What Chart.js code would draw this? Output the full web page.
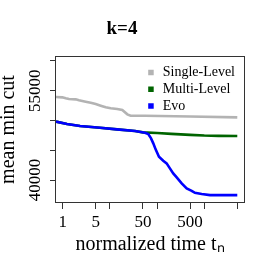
<!DOCTYPE html>
<html>
<head>
<meta charset="utf-8">
<script src="https://cdn.jsdelivr.net/npm/chart.js@4"></script>
<style>
  html, body { margin: 0; padding: 0; background: #ffffff; }
  #c { display: block; }
</style>
</head>
<body>
<canvas id="c" width="273" height="273"></canvas>
<script>
// ---- data ----
const chartTitle = 'k=4';
const xAxisTitle = 'normalized time t\u2099';
const yAxisTitle = 'mean min cut';
const seriesNames = ['Single-Level', 'Multi-Level', 'Evo'];
const seriesColors = ['#b3b3b3', '#006400', '#0000ff'];

const singleTimes  = [0.72, 0.98, 1.16, 1.36, 1.89, 2.21, 3.07, 3.92, 5.0, 6.39, 8.15, 10.4, 14.3, 18.3, 23.4, 27.5, 55.3, 500, 5000];
const singleValues = [53942, 53891, 53723, 53606, 53555, 53387, 53152, 52984, 52766, 52480, 52211, 52043, 51926, 51758, 51035, 50800, 50800, 50666, 50531];

const multiTimes  = [0.72, 1.23, 2.33, 6.16, 14.1, 34.0, 50, 100, 200, 500, 1000, 2000, 5000];
const multiValues = [49826, 49406, 49070, 48784, 48515, 48230, 48011, 47894, 47760, 47591, 47474, 47423, 47390];

const evoTimes  = [0.72, 1.23, 2.33, 6.16, 14.1, 34.0, 55.4, 65, 74.4, 83, 93, 109.5, 134.7, 159.2, 186.8, 219.5, 260.1, 331.7, 423.3, 540, 634, 880, 1324, 5000];
const evoValues = [49826, 49406, 49070, 48784, 48515, 48230, 47944, 47726, 47003, 46163, 45155, 43912, 43240, 42803, 41963, 41123, 40451, 39443, 38603, 38200, 37864, 37646, 37478, 37478];

const xTickValues = [1, 5, 10, 50, 100, 500, 1000, 5000];
const xTickLabels = ['1', '5', '', '50', '', '500', '', ''];
const yTickValues = [40000, 45000, 50000, 55000, 60000];
const yTickLabels = ['40000', '', '', '55000', ''];

const xRange = [0.721, 6935];
const yRange = [36150, 60830];

// ---- build chart ----
function pairs(ts, vs) { return ts.map((t, i) => ({ x: t, y: vs[i] })); }

const serif = '"Liberation Serif", "Times New Roman", serif';

const boxPlugin = {
  id: 'box',
  afterDraw(chart) {
    const a = chart.chartArea, ctx = chart.ctx;
    ctx.save();
    ctx.strokeStyle = '#333';
    ctx.lineWidth = 1;
    ctx.strokeRect(Math.round(a.left) - 0.5, Math.round(a.top) + 0.5,
                   Math.round(a.right - a.left) + 1, Math.round(a.bottom - a.top) - 1);
    ctx.restore();
  }
};

const legendPlugin = {
  id: 'insideLegend',
  afterDraw(chart) {
    const ctx = chart.ctx, a = chart.chartArea;
    ctx.save();
    ctx.font = '14px ' + serif;
    ctx.textBaseline = 'middle';
    ctx.textAlign = 'left';
    chart.data.datasets.forEach((ds, i) => {
      const y = a.top + 16.5 + i * 16.75;
      ctx.fillStyle = ds.borderColor;
      ctx.fillRect(a.left + 92.2, y - 2.75, 5.5, 5.5);
      ctx.fillStyle = '#000';
      ctx.fillText(ds.label, a.left + 106.7, y);
    });
    ctx.restore();
  }
};

const allSeries = [
  pairs(singleTimes, singleValues),
  pairs(multiTimes, multiValues),
  pairs(evoTimes, evoValues)
];

new Chart(document.getElementById('c'), {
  type: 'line',
  data: {
    datasets: allSeries.map((d, i) => ({
      label: seriesNames[i],
      data: d,
      borderColor: seriesColors[i],
      backgroundColor: seriesColors[i],
      borderWidth: 2.6,
      pointRadius: 0,
      tension: 0,
      fill: false,
      order: 2 - i
    }))
  },
  options: {
    responsive: false,
    devicePixelRatio: 1,
    animation: false,
    layout: { padding: { left: 0, right: 29, top: 0, bottom: 0 } },
    plugins: {
      legend: { display: false },
      tooltip: { enabled: false },
      title: {
        display: true,
        text: chartTitle,
        color: '#000',
        font: { family: serif, size: 19, weight: 'bold' },
        padding: { top: 17.2, bottom: 16 }
      }
    },
    scales: {
      x: {
        type: 'logarithmic',
        min: xRange[0],
        max: xRange[1],
        bounds: 'data',
        afterBuildTicks: (s) => { s.ticks = xTickValues.map(v => ({ value: v })); },
        afterFit: (s) => { s.height = 70; },
        ticks: {
          autoSkip: false,
          maxRotation: 0,
          minRotation: 0,
          padding: 3,
          color: '#000',
          font: { family: serif, size: 17 },
          callback: (v) => { const k = xTickValues.indexOf(v); return k >= 0 ? xTickLabels[k] : ''; }
        },
        grid: { display: true, drawOnChartArea: false, drawTicks: true, tickLength: 6, tickColor: '#333', tickWidth: 1 },
        border: { display: false },
        title: {
          display: true,
          text: xAxisTitle,
          color: '#000',
          font: { family: serif, size: 20 },
          padding: { top: 0, bottom: 16 }
        }
      },
      y: {
        type: 'linear',
        min: yRange[0],
        max: yRange[1],
        bounds: 'data',
        afterBuildTicks: (s) => { s.ticks = yTickValues.map(v => ({ value: v })); },
        afterFit: (s) => { s.width = 56; },
        ticks: {
          autoSkip: false,
          minRotation: 90,
          maxRotation: 90,
          crossAlign: 'center',
          padding: -6.5,
          color: '#000',
          font: { family: serif, size: 17 },
          callback: (v) => { const k = yTickValues.indexOf(v); return k >= 0 ? yTickLabels[k] : ''; }
        },
        grid: { display: true, drawOnChartArea: false, drawTicks: true, tickLength: 6, tickColor: '#333', tickWidth: 1 },
        border: { display: false },
        title: {
          display: true,
          text: yAxisTitle,
          color: '#000',
          font: { family: serif, size: 20 },
          padding: { top: -3.5, bottom: 0 }
        }
      }
    }
  },
  plugins: [boxPlugin, legendPlugin]
});
</script>
</body>
</html>
